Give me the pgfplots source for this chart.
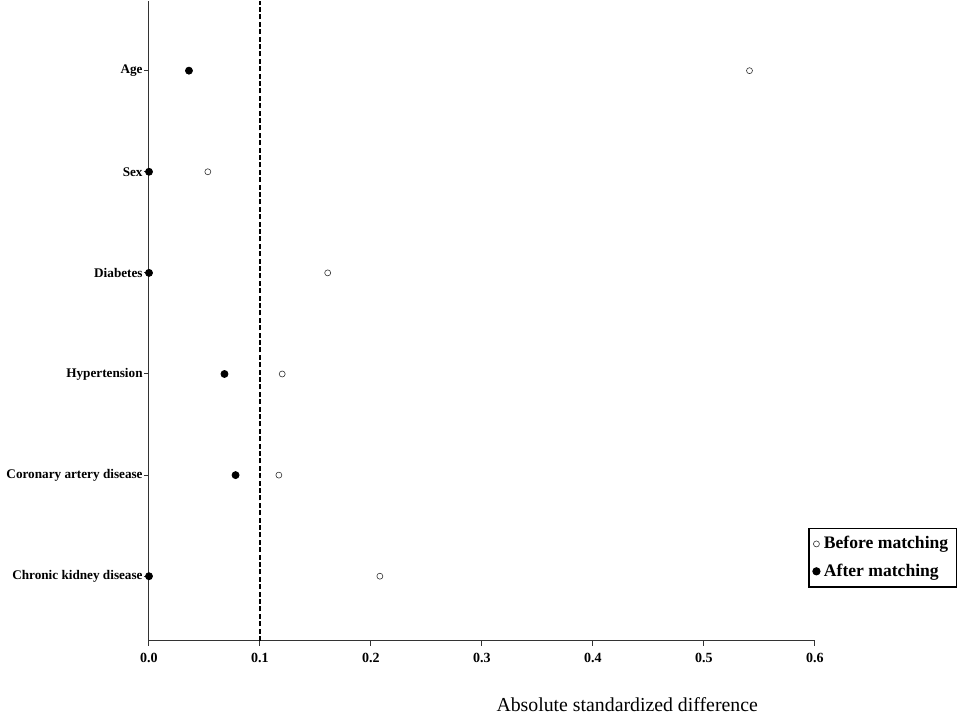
\documentclass[border=0pt]{standalone}
\usepackage{fontspec}
\setmainfont{Liberation Serif}
\usepackage{pgfplots}
\pgfplotsset{compat=1.18}
\begin{document}
\begin{tikzpicture}
\begin{axis}[
  scale only axis,
  width=333pt, height=320pt,
  xmin=0, xmax=0.6, ymin=0.36, ymax=6.69,
  axis x line*=bottom, axis y line*=left,
  axis line style={line width=0.5pt, black!80},
  tick align=outside, tick style={black!80, line width=0.5pt},
  major tick length=2.5pt,
  xtick={0,0.1,...,0.6},
  ytick={1,2,3,4,5,6},
  yticklabels={Chronic kidney disease,Coronary artery disease,Hypertension,Diabetes,Sex,Age},
  /pgf/number format/assume math mode=true,
  xticklabel style={font=\fontsize{7}{8}\selectfont\bfseries, /pgf/number format/fixed, /pgf/number format/fixed zerofill, /pgf/number format/precision=1},
  yticklabel style={font=\fontsize{6.6}{7.5}\selectfont\bfseries, inner sep=0.5pt},
  xlabel={Absolute standardized difference},
  xlabel style={font=\fontsize{9.9}{11}\selectfont, at={(rel axis cs:0.718,0)}, anchor=north, yshift=-25pt},
  clip=false,
  legend style={at={(0.99,0.177)}, anchor=north west, draw=black, line width=0.6pt, font=\fontsize{8.8}{10}\selectfont\bfseries, inner xsep=2pt, inner ysep=2pt, row sep=2pt, legend cell align=left},
  legend image code/.code={\draw[mark repeat=2,mark phase=2,#1] plot coordinates {(0pt,0pt)(2.5pt,0pt)(5pt,0pt)};},
]
\addplot[only marks, mark=o, mark size=1.5pt, mark options={black!80, line width=0.3pt, fill=white}] coordinates {
(0.541,6) (0.053,5) (0.161,4) (0.120,3) (0.117,2) (0.208,1)};
\addlegendentry{Before matching}
\addplot[only marks, mark=*, mark size=1.75pt, black] coordinates {
(0.036,6) (0.0,5) (0.0,4) (0.068,3) (0.078,2) (0.0,1)};
\addlegendentry{After matching}
\addplot[black, line width=0.9pt, dash pattern=on 2.5pt off 1.2pt, forget plot] coordinates {(0.1,0.36) (0.1,6.69)};
\end{axis}
\path (current axis.south west) ++(-74.5pt,-36.5pt) coordinate (bbsw);
\path (current axis.north west) ++(410pt,0pt) coordinate (bbne);
\path (bbsw) rectangle (bbne);
\end{tikzpicture}
\end{document}
